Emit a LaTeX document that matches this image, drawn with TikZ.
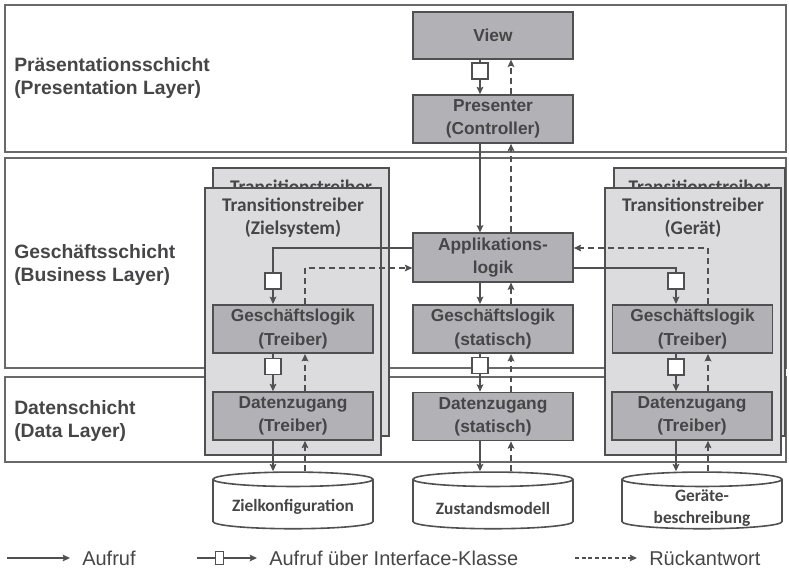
\documentclass[tikz,border=0pt]{standalone}
\usepackage{fontspec}
\setmainfont{Liberation Sans}
\newfontfamily\calibfont{Carlito}
\usepackage{tikz}
\usetikzlibrary{shapes.geometric,arrows.meta,positioning,fit,calc}
\definecolor{frame}{RGB}{80,80,82}
\definecolor{ink}{RGB}{70,70,72}
\definecolor{boxgray}{RGB}{178,178,182}
\definecolor{drvgray}{RGB}{220,220,223}
\definecolor{layergray}{RGB}{105,105,105}
\tikzset{
  layer/.style={rectangle,draw=layergray,line width=1.2pt,inner sep=0pt},
  laylabel/.style={anchor=west,align=left,inner sep=0pt,text=ink,
              font=\fontsize{14.5}{17.5}\selectfont\bfseries},
  drv/.style={rectangle,draw=frame,line width=1.2pt,fill=drvgray,inner sep=0pt},
  drvtitle/.style={anchor=north,align=center,inner sep=0pt,text=ink,
              font=\calibfont\fontsize{14.5}{17.5}\selectfont\bfseries},
  box/.style={rectangle,draw=frame,line width=1.2pt,fill=boxgray,minimum width=120pt,
              minimum height=36pt,align=center,text=ink,font=\fontsize{13}{17.5}\selectfont\bfseries},
  store/.style={cylinder,shape border rotate=90,aspect=0.09,draw=frame,line width=1.2pt,
              fill=white,inner xsep=60pt,inner ysep=0pt,minimum width=120pt,minimum height=42.5pt},
  storetext/.style={align=center,inner sep=0pt,text=ink,
              font=\calibfont\fontsize{13}{16}\selectfont\bfseries},
  iface/.style={rectangle,draw=frame,line width=1.2pt,fill=white,minimum size=12pt,inner sep=0pt},
  call/.style={draw=frame,line width=1.5pt},
  flow/.style={call,-{Stealth[length=5.5pt,width=5pt,inset=1pt]}},
  reply/.style={flow,dash pattern=on 4.5pt off 3pt},
  legtext/.style={anchor=west,inner xsep=9pt,inner ysep=0pt,text=ink,
              font=\fontsize{15}{18}\selectfont},
}

\begin{document}
\begin{tikzpicture}[x=0.75pt,y=-0.75pt]
  \useasboundingbox (0,0) rectangle (789,569);
  \node[layer,fit={(5,5) (786,152)}] (lpres) {};
  \node[layer,fit={(5,158) (786,368)}] (lbus) {};
  \node[layer,fit={(5,377) (786,462)}] (ldata) {};
  \node[laylabel] (tpres) at (14,78) {Präsentationsschicht\\(Presentation Layer)};
  \node[laylabel] (tbus) at (14,265) {Geschäftsschicht\\(Business Layer)};
  \node[laylabel] (tdata) at (14,421) {Datenschicht\\(Data Layer)};

  \node[drv,fit={(213,168) (389,436)}] (tzback) {};
  \node[drvtitle] (tzbackt) at ($(tzback.north)+(0,12)$) {Transitionstreiber};
  \node[drv,fit={(205,188) (381,455)}] (tz) {};
  \node[drvtitle] (tzt) at ($(tz.north)+(0,10)$) {Transitionstreiber\\(Zielsystem)};
  \node[drv,fit={(614,168) (785,436)}] (tgback) {};
  \node[drvtitle] (tgbackt) at ($(tgback.north)+(0,12)$) {Transitionstreiber};
  \node[drv,fit={(605,188) (781,455)}] (tg) {};
  \node[drvtitle] (tgt) at ($(tg.north)+(0,10)$) {Transitionstreiber\\(Gerät)};

  \node[box,minimum height=35pt] (view) at (493,35.5) {View};
  \node[box] (pres) at (493,119) {Presenter\\(Controller)};
  \node[box] (app) at (493,257.5) {Applikations-\\logik};
  \node[box] (gls) at (493,329) {Geschäftslogik\\(statisch)};
  \node[box] (dzs) at (493,416.5) {Datenzugang\\(statisch)};
  \node[box] (glz) at (293,329) {Geschäftslogik\\(Treiber)};
  \node[box] (dzz) at (293,416) {Datenzugang\\(Treiber)};
  \node[box] (glg) at (692.5,329) {Geschäftslogik\\(Treiber)};
  \node[box] (dzg) at (692,416) {Datenzugang\\(Treiber)};

  \node[store] (zk) at (293,508) {};
  \node[storetext] (zkt) at (293,507) {Zielkonfiguration};
  \node[store] (zm) at (493,508) {};
  \node[storetext] (zmt) at (493,508) {Zustandsmodell};
  \node[store] (gb) at (702,508) {};
  \node[storetext] (gbt) at (702,508) {Geräte-\\beschreibung};

  \coordinate (ms) at (480,0);
  \coordinate (md) at (511,0);
  \coordinate (ls) at (273,0);
  \coordinate (ld) at (305,0);
  \coordinate (rs) at (676,0);
  \coordinate (rd) at (708,0);
  \coordinate (hu) at (0,248);
  \coordinate (hl) at (0,268);

  \node[iface] (if1) at (480,71) {};
  \node[iface] (ifl1) at (273,281) {};
  \node[iface] (ifr1) at (676,281) {};
  \node[iface] (ifl2) at (273,366.5) {};
  \node[iface] (ifm2) at (480,365.5) {};
  \node[iface] (ifr2) at (676,367) {};

  % middle column
  \draw[call] (view.south -| if1) -- (if1);
  \draw[flow] (if1) -- (pres.north -| if1);
  \draw[reply] (pres.north -| md) -- (view.south -| md);
  \draw[flow] (pres.south -| ms) -- (app.north -| ms);
  \draw[reply] (app.north -| md) -- (pres.south -| md);
  \draw[flow] (app.south -| ms) -- (gls.north -| ms);
  \draw[reply] (gls.north -| md) -- (app.south -| md);
  \draw[call] (gls.south -| ifm2) -- (ifm2);
  \draw[flow] (ifm2) -- (dzs.north -| ifm2);
  \draw[reply] (dzs.north -| md) -- (gls.south -| md);
  \draw[flow] (dzs.south -| ms) -- (zm.north -| ms);
  \draw[reply] (zm.north -| md) -- (dzs.south -| md);

  % target system driver
  \draw[call] (app.west |- hu) -| (ifl1);
  \draw[flow] (ifl1) -- (glz.north -| ifl1);
  \draw[reply] (glz.north -| ld) |- (app.west |- hl);
  \draw[call] (glz.south -| ifl2) -- (ifl2);
  \draw[flow] (ifl2) -- (dzz.north -| ifl2);
  \draw[reply] (dzz.north -| ld) -- (glz.south -| ld);
  \draw[flow] (dzz.south -| ls) -- (zk.north -| ls);
  \draw[reply] (zk.north -| ld) -- (dzz.south -| ld);

  % device driver
  \draw[call] (app.east |- hl) -| (ifr1);
  \draw[flow] (ifr1) -- (glg.north -| ifr1);
  \draw[reply] (glg.north -| rd) |- (app.east |- hu);
  \draw[call] (glg.south -| ifr2) -- (ifr2);
  \draw[flow] (ifr2) -- (dzg.north -| ifr2);
  \draw[reply] (dzg.north -| rd) -- (glg.south -| rd);
  \draw[flow] (dzg.south -| rs) -- (gb.north -| rs);
  \draw[reply] (gb.north -| rd) -- (dzg.south -| rd);

  % legend
  \coordinate (lga) at (7,558);
  \node[legtext] (lg1) at (70,558) {Aufruf};
  \draw[flow,line width=1pt] (lga) -- (lg1.west);
  \coordinate (lgb) at (197,558);
  \node[iface,minimum width=6pt,minimum height=10pt,line width=0.9pt] (lgif) at (219.5,558) {};
  \node[legtext] (lg2) at (257,558) {Aufruf über Interface-Klasse};
  \draw[call,line width=1pt] (lgb) -- (lgif);
  \draw[flow,line width=1pt] (lgif) -- (lg2.west);
  \coordinate (lgc) at (575,558);
  \node[legtext] (lg3) at (637,558) {Rückantwort};
  \draw[reply,line width=1pt,dash pattern=on 3pt off 2pt] (lgc) -- (lg3.west);
\end{tikzpicture}
\end{document}
